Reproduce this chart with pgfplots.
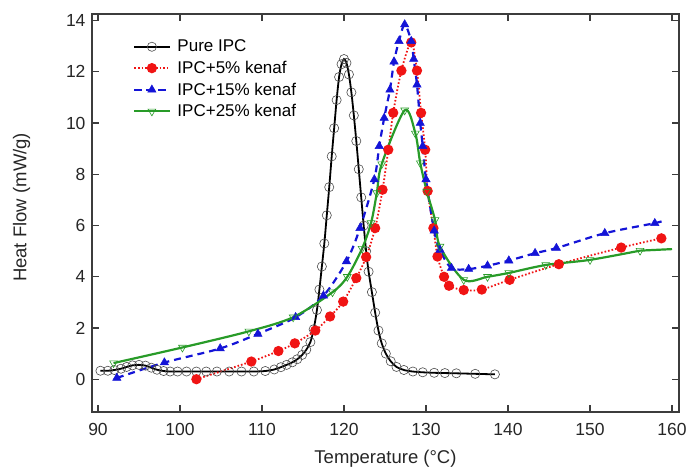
\documentclass[border=0pt]{standalone}
\usepackage{fontspec}
\setmainfont{Liberation Sans}
\usepackage{pgfplots}
\usepackage{pgfplotstable}
\pgfplotsset{compat=1.18}
\definecolor{myred}{RGB}{240,20,20}
\definecolor{myblue}{RGB}{20,20,215}
\definecolor{mygreen}{RGB}{40,155,40}
\definecolor{axgray}{RGB}{60,60,60}

\pgfplotstableread{
x y
90.3 0.33
91.2 0.33
92.0 0.36
92.8 0.41
93.5 0.48
94.2 0.54
95.0 0.56
95.8 0.53
96.5 0.45
97.2 0.37
98.0 0.32
98.8 0.30
99.7 0.30
100.8 0.30
102.0 0.30
103.2 0.30
104.5 0.30
106.0 0.30
107.5 0.30
109.0 0.30
110.4 0.32
111.5 0.38
112.3 0.47
113.0 0.56
113.7 0.66
114.3 0.78
114.9 0.95
115.4 1.15
115.9 1.45
116.3 1.95
116.7 2.7
117.0 3.5
117.3 4.4
117.6 5.3
117.9 6.4
118.2 7.5
118.5 8.7
118.8 9.8
119.1 10.9
119.4 11.8
119.7 12.3
120.0 12.5
120.3 12.35
120.6 11.9
120.9 11.2
121.2 10.3
121.5 9.3
121.8 8.2
122.1 7.1
122.4 6.0
122.7 5.0
123.0 4.2
123.4 3.4
123.8 2.6
124.2 1.9
124.6 1.4
125.1 1.0
125.7 0.7
126.4 0.48
127.3 0.36
128.4 0.30
129.6 0.27
131.0 0.25
132.3 0.24
133.7 0.23
136.0 0.21
138.4 0.19
}\pure

\pgfplotstableread{
x y
102.0 0.0
108.7 0.69
112.0 1.10
114.0 1.40
116.5 1.90
118.3 2.45
119.9 3.03
121.5 3.95
122.7 4.77
123.8 5.9
124.7 7.4
125.4 8.96
126.0 10.4
127.0 12.05
128.2 13.15
128.9 12.05
129.4 10.4
129.9 8.96
130.2 7.35
130.9 5.9
131.4 4.79
132.2 4.0
132.8 3.65
134.6 3.48
136.8 3.50
140.2 3.88
146.2 4.49
153.8 5.14
158.7 5.50
}\five

\pgfplotstableread{
x y
92.3 0.05
98.1 0.65
104.9 1.20
109.5 1.77
114.1 2.42
117.5 3.26
120.3 4.6
121.95 5.9
123.7 7.8
124.3 9.1
124.9 10.2
125.6 11.3
126.1 12.4
126.7 13.2
127.4 13.85
128.2 13.2
128.5 12.5
128.9 11.5
129.3 10.0
129.6 9.1
130.0 7.8
131.0 5.8
131.7 5.05
133.1 4.34
135.2 4.30
137.5 4.43
140.1 4.63
143.3 4.92
145.9 5.12
151.8 5.70
157.9 6.09
}\fifteen

\pgfplotstableread{
x y
91.9 0.63
100.3 1.24
108.4 1.87
113.8 2.42
118.6 3.40
120.4 4.00
122.2 5.10
123.3 6.10
124.0 7.27
124.6 8.4
127.4 10.5
128.7 9.6
129.3 8.44
130.1 7.33
131.1 6.22
131.7 5.18
134.6 3.88
137.5 4.00
140.1 4.15
144.6 4.46
150.0 4.66
156.1 5.02
}\twentyfive

\begin{document}
\begin{tikzpicture}[x=1pt,y=1pt]
\path[use as bounding box] (0,0) rectangle (689,473);
\begin{axis}[
  at={(92pt,61pt)}, anchor=south west,
  scale only axis, width=587pt, height=398pt,
  xmin=89.27, xmax=160.85, ymin=-1.28, ymax=14.26,
  xtick={90,100,...,160}, ytick={0,2,...,14},
  tick align=inside, major tick length=7pt,
  axis line style={axgray, line width=1.2pt},
  every tick/.style={axgray, line width=1.2pt},
  tick label style={font=\fontsize{17.5}{20}\selectfont, text=black!85},
  xticklabel style={yshift=-8pt},
  yticklabel style={xshift=-3pt},
  /pgf/number format/assume math mode=true,
  xlabel={Temperature (°C)}, ylabel={Heat Flow (mW/g)},
  label style={font=\fontsize{18.5}{22}\selectfont, text=black!85},
  xlabel style={at={(axis description cs:0.5,-0.118)}, anchor=center},
  ylabel style={at={(axis description cs:-0.12,0.514)}, anchor=center},
  legend style={at={(axis description cs:0.07,0.94)}, anchor=north west, draw=none, fill=none,
    font=\fontsize{17}{20}\selectfont, row sep=3.8pt, column sep=5pt, inner sep=0pt},
  legend cell align=left,
  legend image code/.code={\draw[mark repeat=2,mark phase=2,#1] plot coordinates {(0pt,0pt) (17.5pt,0pt) (35pt,0pt)};},
]
\addplot[black, line width=1.8pt, smooth, mark=o, mark size=4.6pt,
  mark options={solid, line width=0.6pt, draw=black!70, fill=none}] table {\pure};
\addlegendentry{Pure IPC}
\addplot[myred, line width=1.8pt, dash pattern=on 1.6pt off 2pt, smooth, mark=*, mark size=4.2pt,
  mark options={solid, fill=myred, draw=myred}] table {\five};
\addlegendentry{IPC+5\% kenaf}
\addplot[myblue, line width=2.2pt, dash pattern=on 7pt off 5pt, smooth, mark=triangle*, mark size=4.8pt,
  mark options={solid, fill=myblue, draw=myblue, line width=0.5pt}] table {\fifteen};
\addlegendentry{IPC+15\% kenaf}
\addplot[mygreen, line width=2.2pt, smooth, mark=triangle, mark size=4.5pt,
  mark options={solid, rotate=180, draw=mygreen, fill=none, line width=0.6pt}] table {\twentyfive};
\addlegendentry{IPC+25\% kenaf}
\addplot[forget plot, myblue, line width=2.2pt, dash pattern=on 7pt off 5pt] coordinates {(157.9,6.09) (159.2,6.2)};
\addplot[forget plot, mygreen, line width=2.2pt] coordinates {(156.1,5.02) (160.0,5.08)};
\end{axis}
\end{tikzpicture}
\end{document}
